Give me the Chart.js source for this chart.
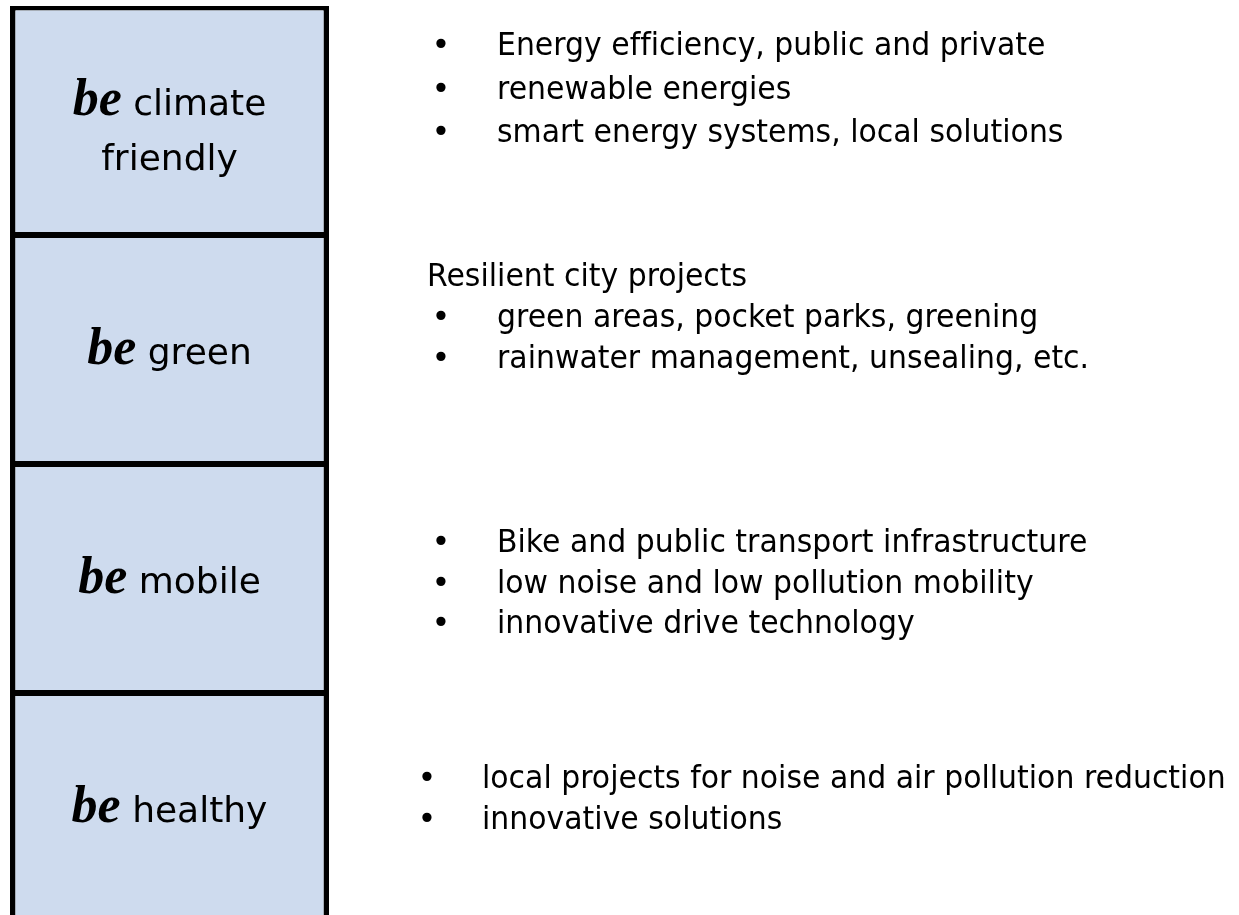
<!DOCTYPE html>
<html>
<head>
<meta charset="utf-8">
<script src="https://cdn.jsdelivr.net/npm/chart.js@4.4.0/dist/chart.umd.min.js"></script>
<style>
    html, body { margin: 0; padding: 0; background: #fff; }
    body { width: 1239px; height: 915px; position: relative; overflow: hidden; font-family: "DejaVu Sans", Verdana, sans-serif; color: #000; font-variant-ligatures: none; }
    #wrap { position: absolute; left: 0; top: 0; width: 1239px; height: 915px; }
    .box-label { position: absolute; width: 318px; text-align: center; font-size: 36px; line-height: 55px; transform: translateY(-50%); }
    .box-label b { font-family: "Liberation Serif", "DejaVu Serif", serif; font-style: italic; font-weight: bold; font-size: 52px; }
    .line { position: absolute; font-size: 32px; line-height: 42px; white-space: nowrap; transform: scaleX(0.935); transform-origin: 0 50%; }
    .bullet { position: absolute; font-size: 32px; line-height: 42px; transform: translateX(-50%); }
</style>
</head>
<body>
<div id="wrap"><canvas id="pillars" width="1239" height="915"></canvas></div>
<div id="labels"></div>
<div id="notes"></div>

<script>
// four pillars, stacked top to bottom, all the same height
const pillars = ['climate friendly', 'green', 'mobile', 'healthy'];
const pillarSize = [1, 1, 1, 1];
const pillarTitle = [['climate', 'friendly'], ['green'], ['mobile'], ['healthy']];

// text on the right of each pillar
const notes = [
    { head: null, items: ['Energy efficiency, public and private', 'renewable energies', 'smart energy systems, local solutions'] },
    { head: 'Resilient city projects', items: ['green areas, pocket parks, greening', 'rainwater management, unsealing, etc.'] },
    { head: null, items: ['Bike and public transport infrastructure', 'low noise and low pollution mobility', 'innovative drive technology'] },
    { head: null, items: ['local projects for noise and air pollution reduction', 'innovative solutions'] }
];
const noteTop = [23, 254, 520, 756];
const noteStep = [43.5, 41, 40.5, 41];

const FILL = '#cedbee';

const datasets = pillars.map((name, i) => ({
    label: name,
    data: [pillarSize[i]],
    backgroundColor: FILL,
    borderColor: '#000',
    borderWidth: { left: 5.5, right: 5.5, top: i === 0 ? 4.5 : 3, bottom: 3 },
    borderSkipped: false,
    inflateAmount: 0,
    barPercentage: 1,
    categoryPercentage: 1
}));

const labelPlugin = {
    id: 'pillarLabels',
    afterDraw(chart) {
        const box = document.getElementById('labels');
        box.innerHTML = '';
        chart.data.datasets.forEach((ds, i) => {
            const bar = chart.getDatasetMeta(i).data[0];
            const top = Math.min(bar.y, bar.base);
            const bottom = Math.min(Math.max(bar.y, bar.base), 922);
            const lines = pillarTitle[i];
            const el = document.createElement('div');
            el.className = 'box-label';
            el.style.left = (bar.x - 159) + 'px';
            el.style.top = ((top + bottom) / 2 + (lines.length > 1 ? 7 : 0)) + 'px';
            el.innerHTML = '<b>be</b> ' + lines.join('<br>');
            box.appendChild(el);
        });
    }
};

new Chart(document.getElementById('pillars'), {
    type: 'bar',
    data: { labels: ['pillars'], datasets },
    options: {
        responsive: false,
        animation: false,
        layout: { padding: { left: 10, right: 910, top: 6, bottom: 0 } },
        scales: {
            x: { stacked: true, display: false },
            y: { stacked: true, display: false, reverse: true, min: 0, max: 3.97 }
        },
        plugins: { legend: { display: false }, tooltip: { enabled: false } }
    },
    plugins: [labelPlugin]
});

// right-hand notes
const notesBox = document.getElementById('notes');
notes.forEach((n, i) => {
    let y = noteTop[i];
    const bx = i === 3 ? 427 : 441;
    const tx = i === 3 ? 482 : 497;
    if (n.head) {
        const h = document.createElement('div');
        h.className = 'line';
        h.style.left = '427px';
        h.style.top = y + 'px';
        h.textContent = n.head;
        notesBox.appendChild(h);
        y += noteStep[i];
    }
    n.items.forEach(t => {
        const b = document.createElement('div');
        b.className = 'bullet';
        b.style.left = bx + 'px';
        b.style.top = y + 'px';
        b.textContent = '•';
        notesBox.appendChild(b);
        const l = document.createElement('div');
        l.className = 'line';
        l.style.left = tx + 'px';
        l.style.top = y + 'px';
        l.textContent = t;
        notesBox.appendChild(l);
        y += noteStep[i];
    });
});
</script>
</body>
</html>
